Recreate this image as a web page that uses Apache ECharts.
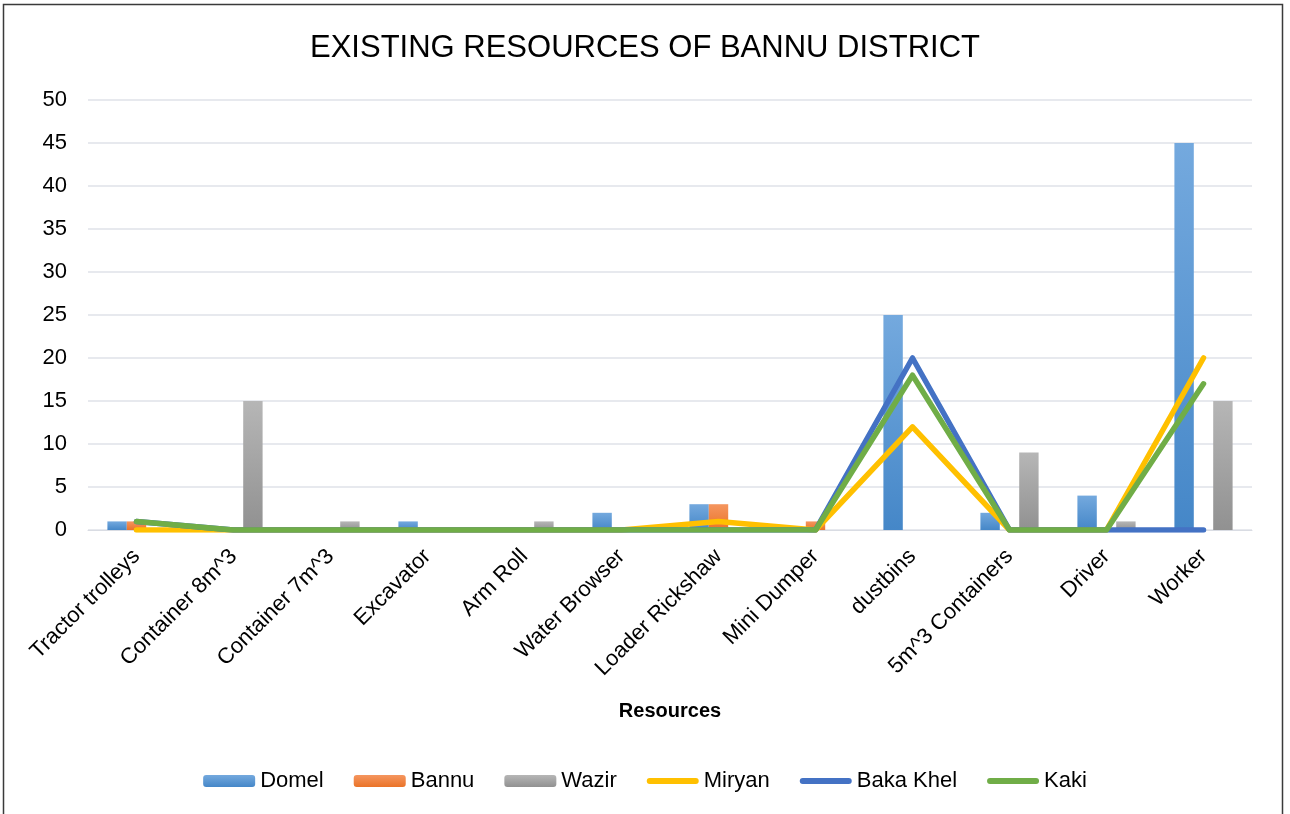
<!DOCTYPE html>
<html>
<head>
<meta charset="utf-8">
<title>Existing Resources of Bannu District</title>
<script src="https://cdn.jsdelivr.net/npm/echarts@6/dist/echarts.min.js"></script>
<style>
  html, body { margin: 0; padding: 0; background: #fff; }
  #chart { width: 1290px; height: 814px; }
</style>
</head>
<body>
<div id="chart"></div>
<script>
// Resource categories along the x axis
const categories = [
  'Tractor trolleys', 'Container 8m^3', 'Container 7m^3', 'Excavator',
  'Arm Roll', 'Water Browser', 'Loader Rickshaw', 'Mini Dumper',
  'dustbins', '5m^3 Containers', 'Driver', 'Worker'
];

// Bar series
const domel    = [1, 0, 0, 1, 0, 2, 3, 0, 25, 2, 4, 45];
const bannu    = [1, 0, 0, 0, 0, 0, 3, 1, 0, 0, 0, 0];
const wazir    = [0, 15, 1, 0, 1, 0, 0, 0, 0, 9, 1, 15];

// Line series
const miryan   = [0, 0, 0, 0, 0, 0, 1, 0, 12, 0, 0, 20];
const bakaKhel = [1, 0, 0, 0, 0, 0, 0, 0, 20, 0, 0, 0];
const kaki     = [1, 0, 0, 0, 0, 0, 0, 0, 18, 0, 0, 17];

// Value axis ticks
const yMin = 0, yMax = 50, yStep = 5;

const FONT = "'Liberation Sans', Arial, sans-serif";

// Legend icon for the line series: a rounded stroke centred in a 52x12 box
// (the two degenerate sub-paths only pin the bounding box).
const LINE_ICON = 'path://M0,0L1,0L0,0Z M0,12L1,12L0,12Z M3,3h46a3,3 0 0 1 0,6h-46a3,3 0 0 1 0,-6Z';

function grad(top, bottom) {
  return new echarts.graphic.LinearGradient(0, 0, 0, 1, [
    { offset: 0, color: top },
    { offset: 1, color: bottom }
  ]);
}

function barSeries(name, data, top, bottom) {
  return {
    name: name,
    type: 'bar',
    data: data,
    barGap: '0%',
    barCategoryGap: '40%',
    itemStyle: { color: grad(top, bottom) }
  };
}

function lineSeries(name, data, color) {
  return {
    name: name,
    type: 'line',
    data: data,
    symbol: 'none',
    lineStyle: { width: 5.5, color: color, cap: 'round', join: 'round' },
    itemStyle: { color: color }
  };
}

const chart = echarts.init(document.getElementById('chart'), null, { renderer: 'canvas' });

chart.setOption({
  animation: false,
  backgroundColor: '#fff',
  textStyle: { fontFamily: FONT },
  title: {
    text: 'EXISTING RESOURCES OF BANNU DISTRICT',
    left: 'center',
    top: 28,
    textStyle: {
      fontFamily: FONT,
      fontSize: 31,
      fontWeight: 'normal',
      color: '#000'
    }
  },
  legend: {
    top: 765,
    left: 'center',
    itemWidth: 52,
    itemHeight: 12,
    itemGap: 30,
    textStyle: { fontSize: 22, color: '#000', fontFamily: FONT },
    data: [
      { name: 'Domel' },
      { name: 'Bannu' },
      { name: 'Wazir' },
      { name: 'Miryan', icon: LINE_ICON },
      { name: 'Baka Khel', icon: LINE_ICON },
      { name: 'Kaki', icon: LINE_ICON }
    ]
  },
  grid: {
    left: 88,
    right: 38,
    top: 100,
    bottom: 284,
    containLabel: false
  },
  xAxis: {
    type: 'category',
    data: categories,
    name: 'Resources',
    nameLocation: 'middle',
    nameGap: 171,
    nameTextStyle: { fontSize: 20, fontWeight: 'bold', color: '#000', fontFamily: FONT },
    axisLine: { show: true, lineStyle: { color: '#d9dce3', width: 1 } },
    axisTick: { show: false },
    axisLabel: {
      rotate: 45,
      interval: 0,
      fontSize: 22,
      color: '#000',
      margin: 23
    }
  },
  yAxis: {
    type: 'value',
    min: yMin,
    max: yMax,
    interval: yStep,
    axisLine: { show: false },
    axisTick: { show: false },
    axisLabel: { fontSize: 22, color: '#000', margin: 21 },
    splitLine: { lineStyle: { color: '#dfe2e8', width: 1.5 } }
  },
  graphic: [{
    type: 'rect',
    z: 100,
    silent: true,
    shape: { x: 3.5, y: 4.5, width: 1279, height: 830 },
    style: { fill: 'none', stroke: '#3a3a3a', lineWidth: 1.5 }
  }],
  series: [
    barSeries('Domel', domel, '#74a9de', '#4587c8'),
    barSeries('Bannu', bannu, '#f5965f', '#ea7328'),
    barSeries('Wazir', wazir, '#b6b6b6', '#919191'),
    lineSeries('Miryan', miryan, '#ffc000'),
    lineSeries('Baka Khel', bakaKhel, '#4472c4'),
    lineSeries('Kaki', kaki, '#70ad47')
  ]
});
</script>
</body>
</html>
